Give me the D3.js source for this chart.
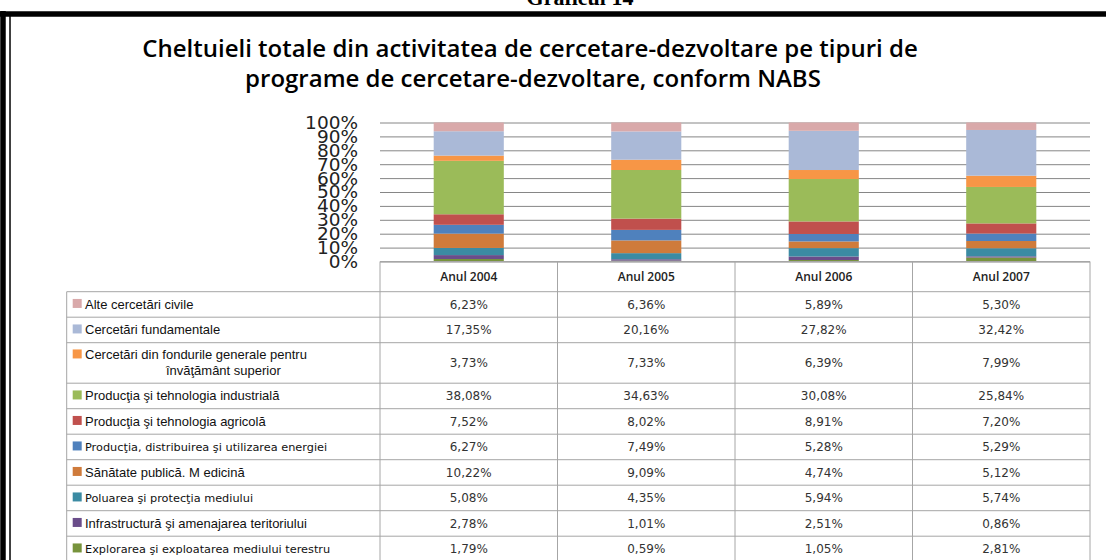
<!DOCTYPE html>
<html>
<head>
<meta charset="utf-8">
<script src="https://cdn.jsdelivr.net/npm/d3@7"></script>
<style>
  body { margin: 0; background: #fff; }
  svg { display: block; }
</style>
</head>
<body>
<div id="chart"></div>
<script>
const years = ["Anul 2004", "Anul 2005", "Anul 2006", "Anul 2007"];

// series, in the order of the data table (top of the stack first)
const seriesNames = [
  "Alte cercetări civile",
  "Cercetări fundamentale",
  "Cercetări din fondurile generale pentru|învăţământ superior",
  "Producţia şi tehnologia  industrială",
  "Producţia şi tehnologia  agricolă",
  "Producţia, distribuirea şi utilizarea energiei",
  "Sănătate publică. M edicină",
  "Poluarea şi protecţia mediului",
  "Infrastructură şi amenajarea teritoriului",
  "Explorarea şi exploatarea mediului terestru",
];

const alte = [6.23, 6.36, 5.89, 5.3];
const fundamentale = [17.35, 20.16, 27.82, 32.42];
const fonduri = [3.73, 7.33, 6.39, 7.99];
const industriala = [38.08, 34.63, 30.08, 25.84];
const agricola = [7.52, 8.02, 8.91, 7.2];
const energie = [6.27, 7.49, 5.28, 5.29];
const sanatate = [10.22, 9.09, 4.74, 5.12];
const poluare = [5.08, 4.35, 5.94, 5.74];
const infrastructura = [2.78, 1.01, 2.51, 0.86];
const explorare = [1.79, 0.59, 1.05, 2.81];

const seriesValues = [
  alte, fundamentale, fonduri, industriala, agricola,
  energie, sanatate, poluare, infrastructura, explorare,
];

const colors = [
  "#d9a9aa", "#aab9d7", "#f79646", "#9bbb59", "#c0504d",
  "#4f81bd", "#cf7b3b", "#3b8ba3", "#6a4d8a", "#77933c",
];

const yTicks = [0, 0.1, 0.2, 0.3, 0.4, 0.5, 0.6, 0.7, 0.8, 0.9, 1];

// layout
const W = 1106, H = 560;
const plot = { left: 380, right: 1090, top: 122.5, bottom: 261.5 };
const tableLeft = 66.7;
const headerTop = 261.5, headerBottom = 291.7;
const rowH = 25.5, tallRowH = 40.5;
const smallFontRows = [5, 7, 9];

const svg = d3
  .select("#chart")
  .append("svg")
  .attr("width", W)
  .attr("height", H);

// caption above the frame (cut off at the top, as in the source)
svg.append("text")
  .attr("x", 580)
  .attr("y", 5)
  .attr("text-anchor", "middle")
  .style("font-family", "'Liberation Serif', serif")
  .style("font-weight", "bold")
  .style("font-size", "22px")
  .text("Graficul 14");

// black double frame
svg.append("line").attr("x1", 0).attr("x2", W).attr("y1", 14).attr("y2", 14)
  .attr("stroke", "#000").attr("stroke-width", 5.5);
svg.append("line").attr("x1", 3).attr("x2", 3).attr("y1", 11).attr("y2", H)
  .attr("stroke", "#000").attr("stroke-width", 5.5);
svg.append("line").attr("x1", 10).attr("x2", 10).attr("y1", 16).attr("y2", H)
  .attr("stroke", "#000").attr("stroke-width", 1.5);

// title
const title = svg.append("text")
  .attr("text-anchor", "middle")
  .style("font-family", "'Open Sans', sans-serif")
  .style("font-weight", 600)
  .style("font-size", "24px")
  .attr("fill", "#000");
title.append("tspan").attr("x", 530).attr("y", 57)
  .text("Cheltuieli totale din activitatea de cercetare-dezvoltare pe tipuri de");
title.append("tspan").attr("x", 533).attr("y", 87)
  .text("programe de cercetare-dezvoltare,  conform NABS");

// scales
const x = d3.scaleBand().domain(years).range([plot.left, plot.right]);
const y = d3.scaleLinear().domain([0, 1]).range([plot.bottom, plot.top]);
const barW = x.bandwidth() * 0.395;

// gridlines
svg.append("g")
  .attr("transform", `translate(${plot.left},0)`)
  .call(d3.axisLeft(y).tickValues(yTicks).tickSize(-(plot.right - plot.left)).tickFormat(""))
  .call((g) => g.select(".domain").remove())
  .call((g) => g.selectAll(".tick line").attr("stroke", "#868686").attr("stroke-width", 1));

// y axis labels
svg.append("g")
  .attr("transform", `translate(${plot.left},0)`)
  .call(d3.axisLeft(y).tickValues(yTicks).tickSize(0).tickPadding(22).tickFormat(d3.format(".0%")))
  .call((g) => g.select(".domain").remove())
  .call((g) => g.selectAll("text")
    .style("font-family", "'DejaVu Sans', sans-serif")
    .style("font-size", "18.5px")
    .attr("fill", "#222"));

// stacked bars (100%)
const table = years.map((yr, i) => {
  const row = { year: yr };
  seriesNames.forEach((s, k) => (row[k] = seriesValues[k][i]));
  return row;
});
const keys = d3.range(seriesNames.length).reverse(); // bottom of stack = last series
const stacked = d3.stack().keys(keys).offset(d3.stackOffsetExpand)(table);

svg.append("g")
  .selectAll("g")
  .data(stacked)
  .join("g")
  .attr("fill", (d) => colors[d.key])
  .selectAll("rect")
  .data((d) => d)
  .join("rect")
  .attr("x", (d) => x(d.data.year) + (x.bandwidth() - barW) / 2)
  .attr("y", (d) => y(d[1]))
  .attr("width", barW)
  .attr("height", (d) => y(d[0]) - y(d[1]));

// axis line at 0%
svg.append("line")
  .attr("x1", plot.left).attr("x2", plot.right)
  .attr("y1", y(0)).attr("y2", y(0))
  .attr("stroke", "#868686");

// data table
const rowTops = [headerBottom];
seriesNames.forEach((s, k) => {
  const h = s.includes("|") ? tallRowH : rowH;
  rowTops.push(rowTops[k] + h);
});
const lineColor = "#a6a6a6";
const tg = svg.append("g").attr("stroke", lineColor).attr("stroke-width", 1);

// header cells
tg.append("line").attr("x1", plot.left).attr("x2", plot.right)
  .attr("y1", headerTop).attr("y2", headerTop);
years.forEach((yr) => {
  tg.append("line").attr("x1", x(yr)).attr("x2", x(yr)).attr("y1", headerTop).attr("y2", H);
});
tg.append("line").attr("x1", plot.right).attr("x2", plot.right).attr("y1", headerTop).attr("y2", H);
tg.append("line").attr("x1", tableLeft).attr("x2", tableLeft).attr("y1", headerBottom).attr("y2", H);
rowTops.forEach((t) => {
  tg.append("line").attr("x1", tableLeft).attr("x2", plot.right).attr("y1", t).attr("y2", t);
});

svg.append("g")
  .selectAll("text")
  .data(years)
  .join("text")
  .attr("x", (d) => x(d) + x.bandwidth() / 2)
  .attr("y", (headerTop + headerBottom) / 2 + 4.5)
  .attr("text-anchor", "middle")
  .style("font-family", "'Open Sans', sans-serif")
  .style("font-weight", 600)
  .style("font-size", "12px")
  .attr("fill", "#222")
  .text((d) => d);

const fmt = (v) => v.toFixed(2).replace(".", ",") + "%";

seriesNames.forEach((name, k) => {
  const top = rowTops[k], bottom = rowTops[k + 1];
  const mid = (top + bottom) / 2;
  const small = smallFontRows.includes(k);
  const parts = name.split("|");
  const firstY = parts.length > 1 ? mid - 8 : mid;

  svg.append("rect")
    .attr("x", 72.7)
    .attr("y", firstY - 5.5)
    .attr("width", 9)
    .attr("height", 9)
    .attr("fill", colors[k]);

  const lbl = svg.append("text")
    .style("font-family", small ? "'DejaVu Sans', sans-serif" : "'Liberation Sans', Arial, sans-serif")
    .style("font-size", small ? "11.3px" : "13px")
    .attr("fill", "#111");
  lbl.append("tspan").attr("x", 85).attr("y", firstY + 4.5).text(parts[0]);
  if (parts.length > 1) {
    lbl.append("tspan")
      .attr("x", (tableLeft + plot.left) / 2)
      .attr("y", firstY + 20.5)
      .attr("text-anchor", "middle")
      .text(parts[1]);
  }

  svg.append("g")
    .selectAll("text")
    .data(seriesValues[k])
    .join("text")
    .attr("x", (d, i) => x(years[i]) + x.bandwidth() / 2)
    .attr("y", mid + 4.5)
    .attr("text-anchor", "middle")
    .style("font-family", "'DejaVu Sans', sans-serif")
    .style("font-size", "12px")
    .attr("fill", "#333")
    .text((d) => fmt(d));
});
</script>
</body>
</html>
